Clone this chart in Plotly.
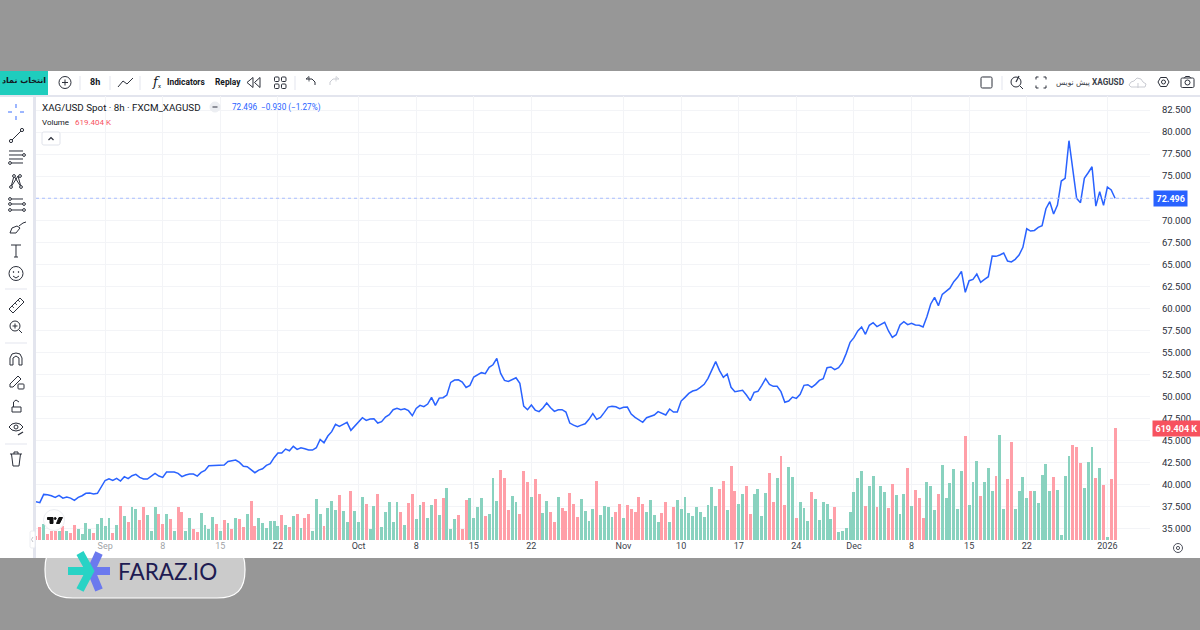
import plotly.graph_objects as go

# XAG/USD 8h closes, one per session
price = [
    38.09, 37.98, 38.92, 38.89, 38.77, 38.58, 38.81, 38.50, 38.62, 38.50,
    38.24, 38.58, 38.77, 39.04, 39.07, 38.96, 39.04, 39.75, 40.50, 40.70,
    40.50, 40.74, 40.43, 40.93, 40.70, 41.04, 41.19, 40.85, 40.66, 40.66,
    40.93, 41.30, 41.00, 40.85, 41.45, 41.42, 41.45, 41.30, 40.93, 41.12,
    41.23, 41.23, 41.00, 41.42, 41.64, 42.17, 42.21, 42.17, 42.21, 42.25,
    42.66, 42.70, 42.82, 42.55, 42.10, 42.06, 41.72, 41.38, 41.68, 41.83,
    42.21, 42.40, 43.08, 43.61, 43.61, 44.06, 43.87, 44.37, 44.02, 44.21,
    44.10, 43.95, 43.95, 44.21, 45.16, 44.78, 45.54, 46.03, 46.86, 46.63,
    46.86, 47.09, 46.18, 46.67, 47.12, 47.61, 47.31, 47.46, 47.50, 47.01,
    47.16, 47.69, 47.95, 48.52, 48.67, 48.52, 48.63, 48.41, 47.84, 48.67,
    49.01, 48.86, 49.16, 49.92, 49.01, 49.84, 49.88, 50.18, 51.62, 51.89,
    51.92, 51.66, 51.05, 51.28, 52.23, 52.49, 52.72, 52.60, 53.32, 53.62,
    54.34, 52.64, 51.85, 51.73, 51.96, 52.15, 51.51, 48.94, 48.52, 49.05,
    48.48, 48.30, 48.71, 49.28, 48.75, 48.33, 48.52, 48.52, 48.26, 47.01,
    46.78, 46.60, 46.78, 46.93, 47.43, 48.07, 47.43, 47.65, 48.22, 48.82,
    48.90, 48.86, 48.63, 48.79, 48.82, 48.03, 47.65, 47.35, 47.09, 47.61,
    47.80, 47.92, 48.30, 48.11, 47.92, 48.60, 48.26, 48.26, 49.50, 49.92,
    50.37, 50.64, 50.75, 51.05, 51.40, 52.08, 52.95, 53.97, 52.95, 52.19,
    52.57, 51.06, 50.57, 50.61, 50.72, 50.19, 49.55, 50.49, 50.61, 51.29,
    52.04, 51.40, 51.17, 51.17, 50.57, 49.36, 49.51, 49.96, 49.81, 50.27,
    51.29, 51.36, 51.06, 51.40, 51.85, 52.04, 53.29, 53.37, 53.06, 53.29,
    53.86, 54.91, 56.16, 56.69, 57.45, 57.90, 57.07, 58.09, 58.39, 57.94,
    58.20, 58.43, 57.45, 56.73, 57.03, 58.13, 58.50, 58.17, 58.32, 58.13,
    58.09, 57.90, 59.07, 60.51, 61.26, 60.32, 61.60, 61.90, 62.30, 63.04,
    63.53, 64.21, 61.83, 63.15, 63.30, 63.90, 62.96, 63.30, 63.60, 65.94,
    65.91, 66.06, 66.29, 65.38, 65.27, 65.57, 66.06, 66.93, 69.04, 68.78,
    68.85, 69.19, 69.38, 71.31, 72.11, 70.71, 71.73, 74.45, 74.75, 79.02,
    75.70, 72.48, 71.99, 74.75, 75.39, 76.07, 71.61, 73.24, 71.69, 73.77,
    73.43, 72.496,
]

# volume in thousands
volume_k = [
    22, 71, 84, 32, 45, 47, 47, 73, 45, 35,
    78, 61, 28, 93, 61, 35, 86, 121, 74, 119,
    37, 78, 186, 132, 95, 179, 167, 106, 182, 136,
    48, 182, 140, 87, 143, 115, 50, 182, 154, 45,
    117, 61, 39, 147, 80, 56, 126, 86, 45, 108,
    89, 61, 117, 115, 69, 140, 212, 73, 119, 89,
    65, 104, 102, 74, 134, 82, 69, 128, 140, 65,
    117, 143, 50, 227, 143, 74, 177, 212, 166, 249,
    158, 95, 272, 158, 95, 236, 195, 61, 186, 255,
    69, 151, 208, 97, 208, 151, 80, 205, 251, 112,
    193, 210, 121, 190, 225, 134, 229, 285, 61, 115,
    136, 61, 218, 229, 121, 179, 229, 130, 140, 342,
    212, 385, 342, 166, 240, 208, 143, 378, 322, 236,
    335, 251, 147, 214, 154, 100, 236, 175, 156, 259,
    199, 126, 227, 158, 104, 171, 326, 134, 188, 182,
    125, 151, 199, 121, 193, 167, 151, 236, 195, 153,
    218, 134, 97, 147, 210, 97, 179, 221, 167, 238,
    145, 128, 179, 151, 126, 193, 294, 186, 283, 326,
    162, 407, 272, 195, 251, 298, 143, 255, 279, 128,
    259, 372, 206, 339, 465, 193, 404, 346, 119, 206,
    177, 104, 264, 225, 106, 210, 195, 115, 179, 43,
    45, 63, 151, 264, 342, 381, 188, 296, 353, 179,
    298, 264, 175, 311, 246, 143, 255, 396, 186, 275,
    229, 121, 322, 296, 166, 253, 413, 233, 314, 394,
    171, 383, 575, 193, 318, 435, 240, 318, 400, 268,
    352, 582, 171, 337, 539, 171, 268, 346, 233, 268,
    268, 205, 357, 419, 272, 350, 275, 24, 353, 465,
    523, 512, 426, 285, 432, 513, 342, 400, 303, 15,
    337, 619.404,
]

# 1 = session closed up (green volume bar), 0 = down (red)
session_up = [
    0, 0, 1, 0, 0, 0, 1, 0, 1, 0,
    0, 1, 1, 1, 1, 0, 1, 1, 1, 1,
    0, 1, 0, 1, 0, 1, 1, 0, 0, 1,
    1, 1, 0, 0, 1, 0, 1, 0, 0, 1,
    1, 0, 0, 1, 1, 1, 1, 0, 1, 0,
    1, 0, 1, 0, 0, 1, 0, 0, 1, 1,
    1, 1, 1, 1, 0, 1, 0, 1, 0, 1,
    0, 0, 1, 1, 1, 0, 1, 1, 1, 0,
    1, 1, 0, 1, 1, 1, 0, 1, 1, 0,
    1, 1, 1, 1, 1, 0, 1, 0, 0, 1,
    1, 0, 1, 1, 0, 1, 0, 1, 1, 1,
    0, 0, 0, 1, 1, 1, 1, 0, 1, 1,
    1, 0, 0, 0, 1, 1, 0, 0, 0, 1,
    0, 0, 1, 1, 0, 0, 1, 0, 0, 0,
    0, 0, 1, 1, 1, 1, 0, 1, 1, 1,
    1, 0, 0, 1, 0, 0, 0, 0, 0, 1,
    1, 1, 1, 0, 0, 1, 0, 1, 1, 1,
    1, 1, 1, 1, 1, 1, 1, 1, 0, 0,
    1, 0, 0, 1, 1, 0, 0, 1, 1, 1,
    1, 0, 0, 1, 0, 0, 1, 1, 0, 1,
    1, 1, 0, 1, 1, 1, 1, 1, 0, 1,
    1, 1, 1, 1, 1, 1, 0, 1, 1, 0,
    1, 1, 0, 0, 1, 1, 1, 0, 1, 0,
    0, 0, 1, 1, 1, 0, 1, 1, 1, 1,
    1, 1, 0, 1, 1, 1, 0, 1, 1, 1,
    0, 1, 1, 0, 0, 1, 1, 1, 1, 0,
    1, 1, 1, 1, 1, 0, 1, 1, 1, 1,
    0, 0, 0, 1, 1, 1, 0, 1, 0, 1,
    0, 0,
]

# x axis ticks sit on session numbers (no bars at weekends)
date_ticks = [18, 33, 48, 63, 84, 99, 114, 129, 153, 168, 183, 198, 213, 228, 243, 258, 279]
date_labels = ["Sep", "8", "15", "22", "Oct", "8", "15", "22", "Nov", "10", "17", "24", "Dec", "8", "15", "22", "2026"]
price_ticks = [35 + 2.5 * k for k in range(20)]

UP = "#89d2bf"
DOWN = "#ff9fa8"
BLUE = "#2962ff"
RED = "#f7525f"
INK = "#2a2e39"
GRID = "#f3f4f7"
FONT = "Roboto"

shapes = []
notes = []


def fx(x):
    return x / 1200


def fy(y):
    return 1 - y / 630


def stroke(pts, color=INK, width=1.0, close=False, fill=None, layer="above"):
    d = "M" + " L".join(f"{fx(x):.5f},{fy(y):.5f}" for x, y in pts) + (" Z" if close else "")
    shapes.append(dict(type="path", path=d, xref="paper", yref="paper", layer=layer,
                       line=dict(color=color, width=width), fillcolor=fill or "rgba(0,0,0,0)"))


def box(x0, y0, x1, y1, fill=None, color=None, width=0, layer="above"):
    shapes.append(dict(type="rect", xref="paper", yref="paper", layer=layer,
                       x0=fx(x0), x1=fx(x1), y0=fy(y0), y1=fy(y1),
                       fillcolor=fill or "rgba(0,0,0,0)",
                       line=dict(color=color or "rgba(0,0,0,0)", width=width)))


def ring(cx, cy, r, color=INK, width=1.0, fill=None):
    shapes.append(dict(type="circle", xref="paper", yref="paper",
                       x0=fx(cx - r), x1=fx(cx + r), y0=fy(cy - r), y1=fy(cy + r),
                       fillcolor=fill or "rgba(0,0,0,0)", line=dict(color=color, width=width)))


def rounded(x0, y0, x1, y1, r, fill=None, color=INK, width=1.0):
    k = 0.3 * r
    p = [f"M{fx(x0 + r):.5f},{fy(y0):.5f}", f"L{fx(x1 - r):.5f},{fy(y0):.5f}",
         f"C{fx(x1 - k):.5f},{fy(y0):.5f} {fx(x1):.5f},{fy(y0 + k):.5f} {fx(x1):.5f},{fy(y0 + r):.5f}",
         f"L{fx(x1):.5f},{fy(y1 - r):.5f}",
         f"C{fx(x1):.5f},{fy(y1 - k):.5f} {fx(x1 - k):.5f},{fy(y1):.5f} {fx(x1 - r):.5f},{fy(y1):.5f}",
         f"L{fx(x0 + r):.5f},{fy(y1):.5f}",
         f"C{fx(x0 + k):.5f},{fy(y1):.5f} {fx(x0):.5f},{fy(y1 - k):.5f} {fx(x0):.5f},{fy(y1 - r):.5f}",
         f"L{fx(x0):.5f},{fy(y0 + r):.5f}",
         f"C{fx(x0):.5f},{fy(y0 + k):.5f} {fx(x0 + k):.5f},{fy(y0):.5f} {fx(x0 + r):.5f},{fy(y0):.5f} Z"]
    shapes.append(dict(type="path", path=" ".join(p), xref="paper", yref="paper",
                       line=dict(color=color, width=width), fillcolor=fill or "rgba(0,0,0,0)"))


def label(x, y, text, size=9.5, color="#131722", anchor="left", family=FONT, **kw):
    notes.append(dict(xref="paper", yref="paper", x=fx(x), y=fy(y), text=text, showarrow=False,
                      xanchor=anchor, yanchor="middle", borderpad=0,
                      font=dict(size=size, color=color, family=family), **kw))


# panels
box(0, 71, 1200, 558, fill="white", layer="below")
box(0, 95, 1200, 97, fill="#e3e5ee", layer="below")
box(33, 97, 36, 558, fill="#e3e5ee", layer="below")

# top toolbar, left part
box(0, 71, 48, 95, fill="#1fcdbd")
label(24, 81, "<b>انتخاب نماد</b>", size=8, anchor="center", family="DejaVu Sans")
ring(65, 82.5, 6)
stroke([(62, 82.5), (68, 82.5)])
stroke([(65, 79.5), (65, 85.5)])
label(95, 82.5, "<b>8h</b>", size=9, anchor="center")
stroke([(118, 87), (123, 81), (127, 84), (133, 78)])
label(151, 82, "<i>f</i>", size=13, family="DejaVu Serif")
label(157, 86, "x", size=6)
label(166, 82.5, "<b>Indicators</b>", size=8.4)
label(214, 82.5, "<b>Replay</b>", size=8.4)
stroke([(253, 77.5), (247, 82.5), (253, 87.5)], close=True)
stroke([(260, 77.5), (254.5, 82.5), (260, 87.5)], close=True)
for sx in (274.5, 281.5):
    for sy in (77, 84):
        rounded(sx, sy, sx + 4.5, sy + 4.5, 1)
stroke([(306, 79), (309, 76.5), (309, 81.5)], width=0.8)
stroke([(306, 79), (312, 79), (315, 82), (315, 85)])
stroke([(339, 79), (336, 76.5), (336, 81.5)], color="#c9cbd2", width=0.8)
stroke([(339, 79), (333, 79), (330, 82), (330, 85)], color="#c9cbd2")
for sx in (80, 110, 140, 295):
    stroke([(sx, 76), (sx, 90)], color="#e3e5ee")

# top toolbar, right part
rounded(981, 77, 992, 88, 1.5)
stroke([(1002, 76), (1002, 90)], color="#e3e5ee")
ring(1016, 82, 5)
stroke([(1020, 86), (1023, 89)])
stroke([(1016, 82), (1019, 76)], width=1.2)
for sx, sy, dx, dy in ((1036, 77, 1, 1), (1046, 77, -1, 1), (1036, 88, 1, -1), (1046, 88, -1, -1)):
    stroke([(sx, sy + 2.5 * dy), (sx, sy), (sx + 2.5 * dx, sy)])
label(1125, 82.5, "<b>XAGUSD</b>", size=8.2, anchor="right", color="#3a3e49")
label(1091, 82.5, "پیش نویس", size=7.5, anchor="right", family="DejaVu Sans", color="#3a3e49")
stroke([(1131, 87), (1129, 85), (1131, 82), (1134, 81), (1137, 78), (1141, 79), (1143, 82),
        (1146, 84), (1145, 87)], color="#c9cbd2", close=True)
stroke([(1138, 88), (1138, 83)], color="#c9cbd2")
stroke([(1158, 82), (1160.5, 77.5), (1166.5, 77.5), (1169, 82), (1166.5, 86.5), (1160.5, 86.5)], close=True)
ring(1163.5, 82, 2)
rounded(1181, 78, 1194, 87.5, 1.5)
ring(1187.5, 82.5, 2.5)
stroke([(1184.5, 78), (1185.5, 76.5), (1189.5, 76.5), (1190.5, 78)])

# left drawing tools
for a, b in (((8, 112), (12, 112)), ((20, 112), (24, 112)), ((16, 104), (16, 108)), ((16, 116), (16, 120))):
    stroke([a, b], color="#5b86ff", width=1.2)
stroke([(12, 140), (21, 131)])
ring(11, 141, 1.6, fill="white")
ring(22, 130, 1.6, fill="white")
for ly in (151, 155, 159, 163):
    stroke([(9, ly), (23, ly)], color=INK)
ring(24, 155, 1.4, fill="white")
ring(10, 163, 1.4, fill="white")
stroke([(11, 187), (14, 176), (21, 187), (18, 176), (11, 187)])
ring(11, 187, 1.4, fill="white")
ring(21, 187, 1.4, fill="white")
ring(14, 176, 1.4, fill="white")
ring(20, 176, 1.4, fill="white")
for ly in (199, 204, 210):
    stroke([(11, ly), (23, ly)])
    ring(10, ly, 1.4, fill="white")
    if ly > 199:
        ring(24, ly, 1.4, fill="white")
stroke([(10, 233), (12, 228), (17, 226), (20, 228), (16, 233)], close=True)
stroke([(19, 226), (23, 223), (26, 222)])
stroke([(11, 245), (21, 245)])
stroke([(16, 245), (16, 257)])
stroke([(14, 257), (18, 257)])
ring(16, 273.5, 7)
ring(13.5, 272, 0.4, fill=INK)
ring(18.5, 272, 0.4, fill=INK)
stroke([(13, 276), (16, 278), (19, 276)])
stroke([(5, 289), (27, 289)], color="#e3e5ee")
stroke([(9, 309), (20, 298), (24, 302), (13, 313)], close=True)
for t in (12, 15, 18):
    stroke([(t, 306 - (t - 12)), (t + 2, 308 - (t - 12))], width=0.8)
ring(15, 326, 5)
stroke([(19, 330), (22, 333)])
stroke([(12.5, 326), (17.5, 326)])
stroke([(15, 323.5), (15, 328.5)])
stroke([(5, 343), (27, 343)], color="#e3e5ee")
stroke([(10, 365), (10, 358), (12, 354), (16, 353), (20, 354), (22, 358), (22, 365), (19, 365),
        (19, 358), (16, 356), (13, 358), (13, 365)], close=True)
stroke([(10, 387), (10, 384), (18, 376), (21, 379), (13, 387)], close=True)
rounded(18, 384, 24, 389, 0.8)
stroke([(12, 407), (12, 412), (21, 412), (21, 407)], close=True)
stroke([(13.5, 407), (13.5, 402), (16, 400), (19, 402)])
stroke([(9, 427), (12, 424), (16, 423), (20, 424), (23, 427), (20, 430), (16, 431), (12, 430)], close=True)
ring(16, 427, 2)
stroke([(18, 435), (23, 432)], width=1.4)
stroke([(5, 444), (27, 444)], color="#e3e5ee")
stroke([(10, 454), (22, 454)])
stroke([(14, 454), (14, 452), (18, 452), (18, 454)])
stroke([(11.5, 454), (13, 466), (19, 466), (20.5, 454)])

# legend block
label(41, 107, "XAG/USD Spot · 8h · FXCM_XAGUSD", size=9.8)
ring(215, 107, 5, color="#eceef2", fill="#eceef2")
stroke([(212.5, 107), (217.5, 107)], color="#50535e", width=1.2)
label(231, 107, "72.496", size=8.2, color=BLUE)
label(260, 107, "−0.930 (−1.27%)", size=8.2, color=BLUE)
label(41, 122.5, "Volume", size=8)
label(74, 122.5, "619.404 K", size=8, color=RED)
rounded(42, 132, 60, 145, 2, color="#e0e3eb", fill="white")
stroke([(48.5, 140), (51, 137.5), (53.5, 140)], width=1.2)

# settings button, bottom right
ring(1178, 548, 4.5, color="#50535e")
ring(1178, 548, 1.6, color="#50535e")

fig = go.Figure()
fig.add_trace(go.Bar(
    x=list(range(len(volume_k))), y=volume_k, yaxis="y", width=0.76,
    marker=dict(color=[UP if u else DOWN for u in session_up], line=dict(width=0)),
))
fig.add_trace(go.Scatter(
    x=list(range(len(price))), y=price, yaxis="y2", mode="lines",
    line=dict(color=BLUE, width=1.5),
))

# last value line and tags, tied to the axes
shapes.append(dict(type="line", xref="paper", yref="y2", x0=fx(36), x1=fx(1150),
                   y0=price[-1], y1=price[-1], line=dict(color="#a9bdff", width=1, dash="dot")))
notes.append(dict(xref="paper", yref="y2", x=fx(1170.5), y=price[-1], text=f"<b>{price[-1]:.3f}</b>",
                  showarrow=False, bgcolor=BLUE, borderpad=2.5, xanchor="center",
                  font=dict(size=9, color="white", family=FONT)))
notes.append(dict(xref="paper", yref="y", x=fx(1176), y=volume_k[-1], text=f"<b>{volume_k[-1]:.3f} K</b>",
                  showarrow=False, bgcolor=RED, borderpad=2.5, xanchor="center",
                  font=dict(size=9, color="white", family=FONT)))

# TradingView badge
ring(54, 520, 10.5, color="#eceef2", fill="white")
stroke([(47.5, 517.5), (53, 517.5), (53, 523.5), (50, 523.5), (50, 519.5), (47.5, 519.5)], color="#111", fill="#111", close=True)
ring(55.2, 518.5, 1, color="#111", fill="#111")
stroke([(56.5, 523.5), (59, 517.5), (62.5, 517.5), (59.5, 523.5)], color="#111", fill="#111", close=True)

# collapse handle
rounded(30, 531, 35, 548, 2, color="#eceef2", fill="white")
stroke([(33, 537), (31.5, 539.5), (33, 542)], color="#b2b5be", width=0.8)

# watermark
rounded(45, 541, 245, 598, 28, fill="rgba(255,255,255,0.5)", color="white", width=1.2)
stroke([(99, 553), (91, 570.5), (99, 590)], color="#6b79ee", width=8)
box(91, 567, 110, 575, fill="#6b79ee")
stroke([(80, 553), (90, 571), (80, 590)], color="#28d3c5", width=8)
box(68, 567, 91, 575, fill="#28d3c5")
label(117, 571, "FARAZ.IO", size=22.5, color="#1e1b52", family="Lato")

# the 72.500 label sits under the last price tag, so it stays blank
tick_text = ["" if abs(v - price[-1]) < 0.5 else f"{v:.3f}" for v in price_ticks]

fig.update_layout(
    width=1200, height=630, showlegend=False, bargap=0,
    margin=dict(l=0, r=0, t=0, b=0),
    paper_bgcolor="#979797", plot_bgcolor="rgba(0,0,0,0)",
    font=dict(family=FONT, size=9.5, color="#131722"),
    shapes=shapes, annotations=notes,
    xaxis=dict(domain=[fx(36), fx(1150)], range=[0, 290.1], tickmode="array",
               tickvals=date_ticks, ticktext=date_labels, showgrid=True, gridcolor=GRID, gridwidth=1,
               zeroline=False, ticks="", ticklabelstandoff=-1, showline=False,
               tickfont=dict(size=9, color="#3a3e49")),
    yaxis=dict(domain=[fy(540), fy(96)], range=[-2.8, 2464], visible=False, fixedrange=True),
    yaxis2=dict(domain=[fy(540), fy(96)], overlaying="y", side="right", anchor="x",
                range=[33.75, 84.09], tickmode="array", tickvals=price_ticks,
                ticktext=tick_text, showgrid=True, gridcolor=GRID,
                zeroline=False, ticks="outside", ticklen=9, tickcolor="rgba(0,0,0,0)", showline=False,
                tickfont=dict(size=9.5, color="#2a2e39")),
)

# the page's default body margin would push the chart 8px off
fig.write_html("out.html", config=dict(displayModeBar=False),
               post_script="document.body.style.margin='0';")
